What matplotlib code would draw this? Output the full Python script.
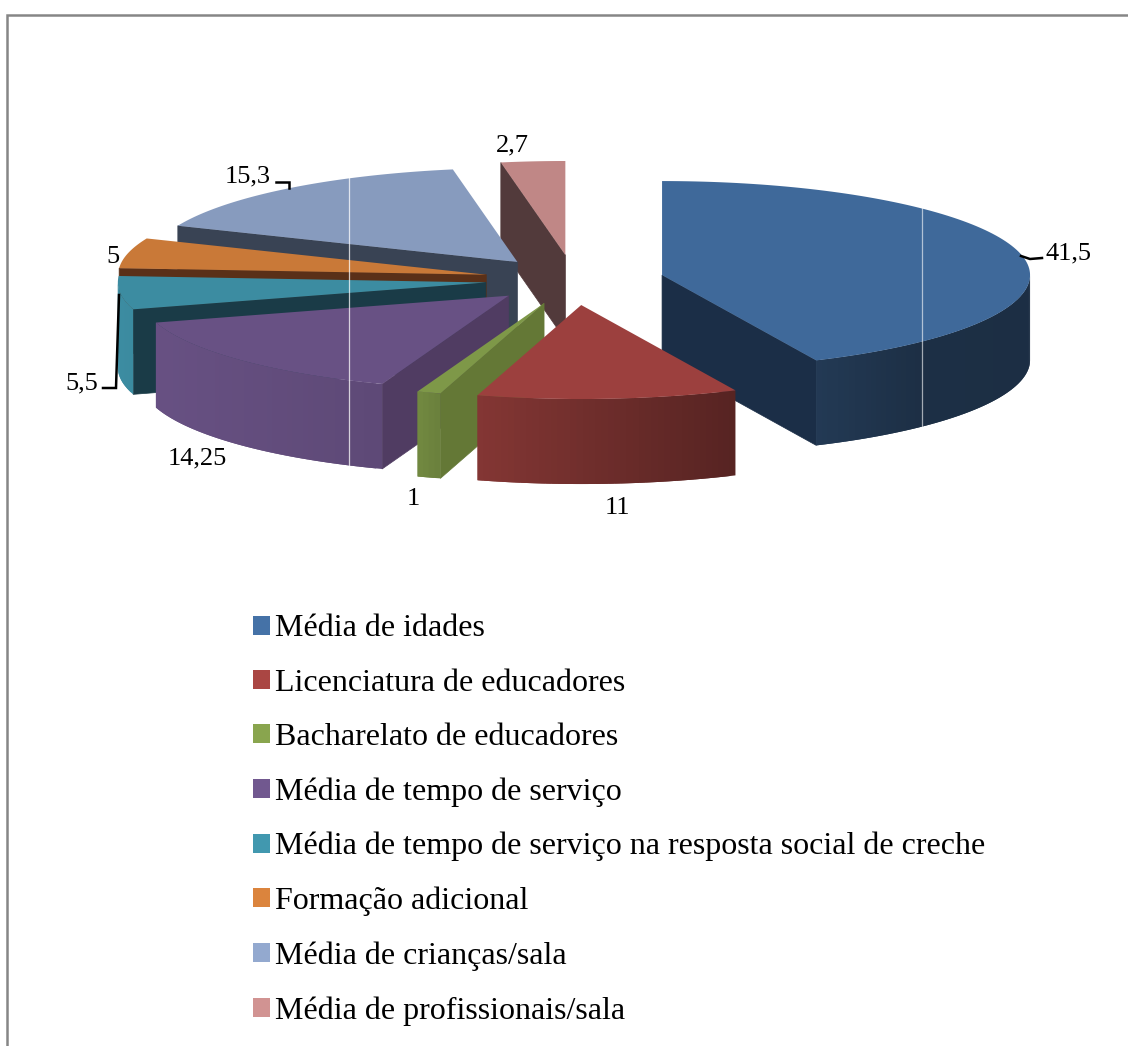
import numpy as np
import matplotlib
matplotlib.use("Agg")
import matplotlib.pyplot as plt
from matplotlib.patches import Patch, Polygon
from matplotlib.lines import Line2D
from matplotlib.colors import to_rgb

categories = ["Média de idades", "Licenciatura de educadores", "Bacharelato de educadores",
              "Média de tempo de serviço", "Média de tempo de serviço na resposta social de creche",
              "Formação adicional", "Média de crianças/sala", "Média de profissionais/sala"]
values = [41.5, 11, 1, 14.25, 5.5, 5, 15.3, 2.7]
explode = [0.245, 0.267, 0.26, 0.244, 0.241, 0.245, 0.246, 0.267]
colors = ["#4572A7", "#AA4643", "#89A54E", "#71588F", "#4198AF", "#DB843D", "#93A9CF", "#D19392"]
face_colors = ["#1B2E47", "#5A2220", "#647836", "#503C62", "#1A3B47", "#5A3018", "#394354", "#523A3B"]
label_pos = [(1068, 253), (617, 508), (413, 499), (197, 458), (82, 383), (113, 257), (248, 176), (512, 145)]

CX, CY, RX, RY, DEPTH = 574, 280, 368, 94, 85
FONT = "Liberation Serif"

fig = plt.figure(figsize=(11.28, 10.46), dpi=100, facecolor="white")
ax = fig.add_axes([0, 0, 1, 1])
ax.set_xlim(0, 1128)
ax.set_ylim(1046, 0)
ax.axis("off")


def shade(col, f):
    return tuple(c * f for c in to_rgb(col))


def rim_factor(a):
    return np.interp(np.sin(np.radians(a)), [-1, -0.34, -0.28, 0.42, 0.7, 1], [1.0, 0.9, 0.84, 0.55, 0.45, 0.44])


def pt(apex, a, dz=0):
    r = np.radians(a)
    return (apex[0] + RX * np.sin(r), apex[1] - RY * np.cos(r) + dz)


edges = np.concatenate([[0], np.cumsum(values)]) / np.sum(values) * 360
slices = []
for i in range(len(values)):
    a0, a1 = edges[i], edges[i + 1]
    mid = np.radians((a0 + a1) / 2)
    apex = (CX + explode[i] * RX * np.sin(mid), CY - explode[i] * RY * np.cos(mid))
    slices.append((i, a0, a1, apex))

# painter's order: back to front
order = [7, 6, 5, 4, 3, 2, 0, 1]
for z, i in enumerate(order):
    _, a0, a1, apex = slices[i]
    zo = 2 + z
    top = colors[i]
    # radial walls
    if 180 < a0 < 360:
        p = pt(apex, a0)
        ax.add_patch(Polygon([apex, p, (p[0], p[1] + DEPTH), (apex[0], apex[1] + DEPTH)],
                             fc=face_colors[i], ec=face_colors[i], lw=0.5, zorder=zo))
    if 0 < a1 < 180:
        p = pt(apex, a1)
        ax.add_patch(Polygon([apex, p, (p[0], p[1] + DEPTH), (apex[0], apex[1] + DEPTH)],
                             fc=face_colors[i], ec=face_colors[i], lw=0.5, zorder=zo))
    # outer rim with shading: each strip overlaps the next so no seams appear
    lo, hi = max(a0, 90), min(a1, 270)
    if hi > lo:
        th = np.linspace(lo, hi, int((hi - lo)) + 2)
        step = th[1] - th[0]
        for t0, t1 in zip(th[:-1], th[1:]):
            c = shade(top, rim_factor((t0 + t1) / 2) * 0.92)
            t2 = min(t1 + step, hi)
            ts = np.linspace(t0, t2, 5)
            ax.add_patch(Polygon([pt(apex, t) for t in ts] + [pt(apex, t, DEPTH) for t in ts[::-1]],
                                 fc=c, ec="none", zorder=zo))
    # top face
    th = np.linspace(a0, a1, 120)
    ax.add_patch(Polygon([apex] + [pt(apex, t) for t in th], fc=shade(top, 0.92),
                         ec="none", zorder=zo + 0.5))

# thin light seams across the pie
ax.plot([349, 349], [178, 468], color="white", lw=0.9, alpha=0.75, zorder=30)
ax.plot([922, 922], [208, 429], color="white", lw=0.9, alpha=0.6, zorder=30)

# data labels
for v, (x, y) in zip(values, label_pos):
    ax.text(x, y, f"{v:g}".replace(".", ","), family=FONT, fontsize=19, ha="center", va="center",
            color="black", zorder=40)

# leader lines
for xs, ys in [([1021, 1030, 1042], [256, 259, 258]),
               ([276, 289, 289], [182, 182, 188]),
               ([103, 116, 119], [388, 388, 295])]:
    ax.plot(xs, ys, color="black", lw=1.8, solid_joinstyle="miter", zorder=35)

# outer chart frame (runs off the picture at right and bottom)
ax.add_line(Line2D([7, 7, 1128], [1046, 15, 15], color="#868686", lw=1.8, solid_joinstyle="miter", zorder=50))

handles = [Patch(fc=c, ec="none") for c in colors]
leg = ax.legend(handles, categories, loc="upper left", bbox_to_anchor=(253, 614.5),
                bbox_transform=ax.transData, frameon=False, borderpad=0, borderaxespad=0,
                prop={"family": FONT, "size": 23}, handlelength=0.53, handleheight=0.53,
                handletextpad=0.16, labelspacing=0.79)
leg.set_zorder(40)
fig.savefig("out.png", dpi=100)
